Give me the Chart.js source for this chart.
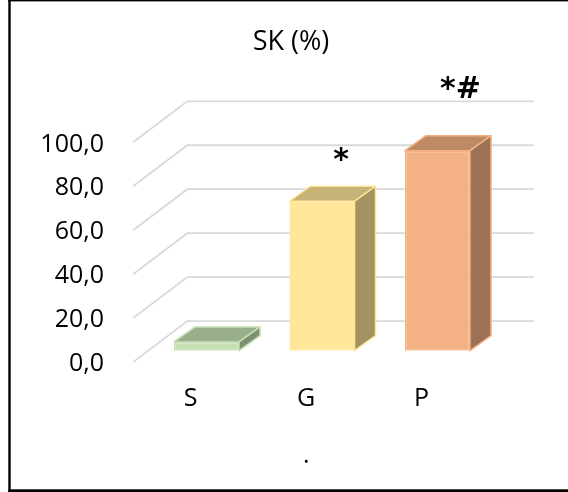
<!DOCTYPE html>
<html>
<head>
<meta charset="utf-8">
<script src="https://cdn.jsdelivr.net/npm/chart.js@4.4.0/dist/chart.umd.min.js"></script>
<style>
  html, body { margin: 0; padding: 0; background: #fff; }
  canvas { display: block; }
</style>
</head>
<body>
<canvas id="chart" width="568" height="492"></canvas>
<script>
// ---- data ----
const categories = ['S', 'G', 'P'];
const skValues = [4.0, 68.0, 91.0];
const yTickValues = [0, 20, 40, 60, 80, 100];
const significance = ['', '*', '*#'];

// ---- styling ----
const frontColors = ['#c5e0b4', '#ffe699', '#f4b183'];
const topColors = ['#98af8a', '#c7b377', '#be8a66'];
const sideColors = ['#7b9170', '#a39362', '#9c7154'];
const FONT = '"Open Sans", "Noto Sans", sans-serif';
const MARK_FONT = 'bold 30px "DejaVu Sans", sans-serif';

// oblique projection offsets (px) for the box depth and the wall planes
const BAR_DEPTH = { dx: 21, dy: 15 };
const WALL_BACK = { dx: 38.5, dy: 29.6 };
const WALL_FRONT = { dx: 15.7, dy: 11.4 };
// placement of significance marks relative to the top-centre of each bar
const MARK_OFFSETS = [null, { dx: 19, dy: -32 }, { dx: 23, dy: -53 }];

function fillPoly(ctx, pts, fill, stroke) {
  ctx.beginPath();
  ctx.moveTo(pts[0][0], pts[0][1]);
  for (let k = 1; k < pts.length; k++) ctx.lineTo(pts[k][0], pts[k][1]);
  ctx.closePath();
  ctx.fillStyle = fill;
  ctx.fill();
  ctx.strokeStyle = stroke;
  ctx.lineWidth = 1.5;
  ctx.lineJoin = 'round';
  ctx.stroke();
}

const depthPlugin = {
  id: 'depth3d',
  beforeDraw(chart) {
    const { ctx, width, height } = chart;
    ctx.save();
    ctx.fillStyle = '#ffffff';
    ctx.fillRect(0, 0, width, height);
    ctx.restore();
  },
  beforeDatasetsDraw(chart) {
    // back wall gridlines and the receding side-wall lines
    const { ctx, chartArea: a, scales: { y } } = chart;
    ctx.save();
    ctx.strokeStyle = '#d9d9d9';
    ctx.lineWidth = 1.8;
    y.ticks.forEach(t => {
      const py = y.getPixelForValue(t.value);
      ctx.beginPath();
      ctx.moveTo(a.left - WALL_FRONT.dx, py + WALL_FRONT.dy);
      ctx.lineTo(a.left + WALL_BACK.dx, py - WALL_BACK.dy);
      ctx.lineTo(a.right + WALL_BACK.dx, py - WALL_BACK.dy);
      ctx.stroke();
    });
    ctx.restore();
  },
  afterDatasetsDraw(chart) {
    const { ctx } = chart;
    const meta = chart.getDatasetMeta(0);
    const { dx, dy } = BAR_DEPTH;
    ctx.save();
    meta.data.forEach((bar, i) => {
      const { x, y, base, width } = bar.getProps(['x', 'y', 'base', 'width'], true);
      const l = x - width / 2, r = x + width / 2;
      // top face
      fillPoly(ctx, [[l, y], [r, y], [r + dx, y - dy], [l + dx, y - dy]], topColors[i], frontColors[i]);
      // right side face
      fillPoly(ctx, [[r, y], [r + dx, y - dy], [r + dx, base - dy], [r, base]], sideColors[i], frontColors[i]);
      // significance mark
      if (significance[i]) {
        const off = MARK_OFFSETS[i];
        ctx.fillStyle = '#000';
        ctx.font = MARK_FONT;
        ctx.textAlign = 'center';
        ctx.textBaseline = 'alphabetic';
        ctx.fillText(significance[i], x + off.dx, y + off.dy);
      }
    });
    ctx.restore();
  },
  afterDraw(chart) {
    const { ctx, chartArea: a } = chart;
    ctx.save();
    // horizontal axis caption
    ctx.fillStyle = '#000';
    ctx.font = '25px ' + FONT;
    ctx.textAlign = 'center';
    ctx.textBaseline = 'alphabetic';
    ctx.fillText('.', (a.left - WALL_FRONT.dx + a.right - WALL_FRONT.dx) / 2, 463);
    // outer frame
    ctx.fillStyle = '#000';
    ctx.fillRect(8.3, 0, 2.4, 492);
    ctx.fillRect(8.3, 0, 560, 1.4);
    ctx.fillRect(8.3, 489.3, 560, 2.7);
    ctx.restore();
  }
};

new Chart(document.getElementById('chart'), {
  type: 'bar',
  data: {
    labels: categories,
    datasets: [{
      label: 'SK (%)',
      data: skValues,
      backgroundColor: frontColors,
      borderColor: frontColors,
      borderWidth: 1.5,
      borderSkipped: false,
      categoryPercentage: 1.0,
      barPercentage: 0.563
    }]
  },
  options: {
    responsive: false,
    animation: false,
    devicePixelRatio: 1,
    layout: { padding: { left: 14, right: 0, top: 0, bottom: 0 } },
    plugins: {
      legend: { display: false },
      tooltip: { enabled: false },
      title: {
        display: true,
        text: 'SK (%)',
        color: '#000',
        font: { family: FONT, size: 27, weight: 'normal', lineHeight: 1.2 },
        padding: { top: 25.8, bottom: 72.7 }
      }
    },
    scales: {
      x: {
        grid: { display: false, drawTicks: false },
        border: { display: false },
        ticks: {
          color: '#000',
          font: { family: FONT, size: 25 },
          padding: 33,
          labelOffset: -16
        },
        afterFit(scale) { scale.height = 141.3; }
      },
      y: {
        min: 0,
        max: 100,
        grid: { display: false, drawTicks: false },
        border: { display: false },
        afterBuildTicks(scale) { scale.ticks = yTickValues.map(v => ({ value: v })); },
        ticks: {
          color: '#000',
          font: { family: FONT, size: 25 },
          padding: 44.75,
          labelOffset: 13.5,
          callback: v => v.toFixed(1).replace('.', ',')
        },
        afterFit(scale) { scale.width = 134.75; }
      },
      // empty right-hand box that reserves the space behind the back wall
      yRight: {
        position: 'right',
        display: true,
        grid: { display: false, drawTicks: false },
        border: { display: false },
        ticks: { display: false },
        afterFit(scale) { scale.width = 72.75; }
      }
    }
  },
  plugins: [depthPlugin]
});
</script>
</body>
</html>
